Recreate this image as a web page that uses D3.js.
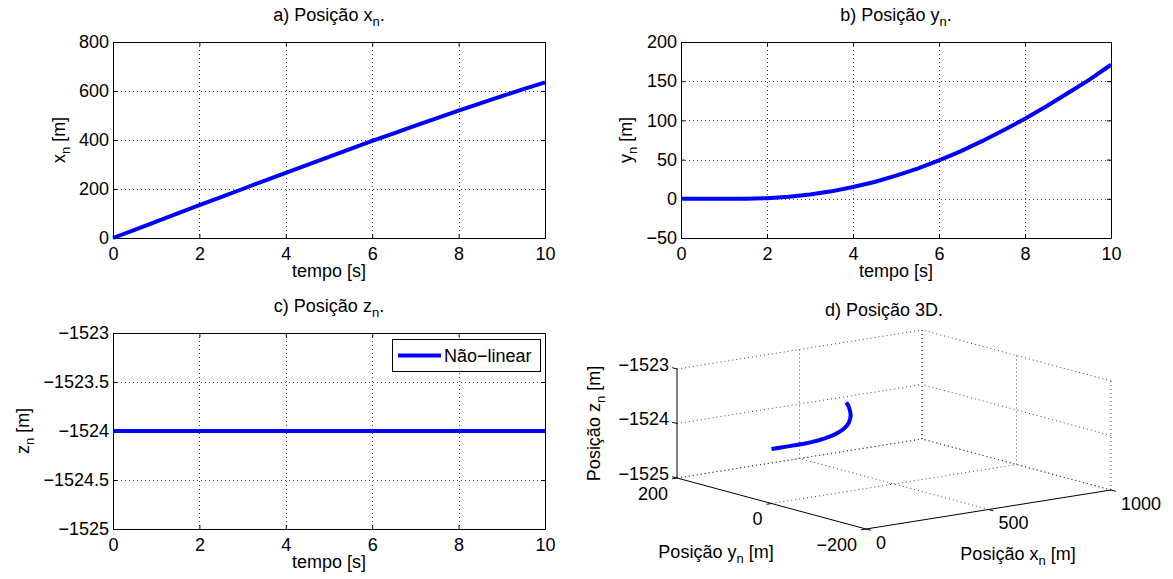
<!DOCTYPE html>
<html>
<head>
<meta charset="utf-8">
<script src="https://cdn.jsdelivr.net/npm/d3@7"></script>
<style>
  html, body { margin: 0; padding: 0; background: #fff; }
  svg { display: block; font-family: "Liberation Sans", Arial, Helvetica, sans-serif; }
</style>
</head>
<body>
<svg id="fig" width="1173" height="579"></svg>
<script>
// Simulated trajectory, sampled every 0.5 s
const time = [0, 0.5, 1, 1.5, 2, 2.5, 3, 3.5, 4, 4.5, 5, 5.5, 6, 6.5, 7, 7.5, 8, 8.5, 9, 9.5, 10];
const posX = [0, 33.5, 67, 100.5, 134, 167, 200, 233, 266, 298.5, 331, 363.5, 396, 427.5, 459, 489.5, 520, 549.5, 579, 607.5, 635];
const posY = [0, 0, 0, 0.1, 0.8, 2.5, 5.5, 9.5, 15, 21.5, 29.5, 38.5, 49, 60.5, 73.5, 87.5, 102, 118, 135, 152, 171];
const posZ = [-1524, -1524, -1524, -1524, -1524, -1524, -1524, -1524, -1524, -1524, -1524,
              -1524, -1524, -1524, -1524, -1524, -1524, -1524, -1524, -1524, -1524];

// Tick values
const timeTicks = [0, 2, 4, 6, 8, 10];
const xTicks = [0, 200, 400, 600, 800];
const yTicks = [-50, 0, 50, 100, 150, 200];
const zTicks = [-1525, -1524.5, -1524, -1523.5, -1523];
const x3Ticks = [0, 500, 1000];
const y3Ticks = [-200, 0, 200];
const z3Ticks = [-1525, -1524, -1523];

const seriesName = "Não−linear";

const FONT = 18;
const SUB = 13;
const BLUE = "#0000ff";
const svg = d3.select("#fig");
const fmt = d3.format("");

// Text with TeX-like subscripts: parts = [[text, isSub], ...]
function richText(sel, parts) {
  let down = false;
  parts.forEach(([t, sub]) => {
    const ts = sel.append("tspan").text(t);
    if (sub && !down) { ts.attr("dy", 5).attr("font-size", SUB); down = true; }
    else if (sub) { ts.attr("font-size", SUB); }
    else if (down) { ts.attr("dy", -5); down = false; }
  });
  return sel;
}

function styleAxis(g) {
  g.attr("font-size", FONT).attr("font-family", null);
  g.selectAll("text").attr("fill", "#000");
  g.selectAll("line").attr("stroke", "#000");
  g.select(".domain").attr("stroke", "#000");
}

function drawPanel(box, yDomain, yTickVals, values, titleParts, ylabelParts, withLegend) {
  const g = svg.append("g");
  const x = d3.scaleLinear([0, 10], [box.left, box.right]);
  const y = d3.scaleLinear(yDomain, [box.bottom, box.top]);

  // dotted grid
  const grid = g.append("g")
    .attr("stroke", "#444").attr("stroke-width", 1)
    .attr("stroke-dasharray", "1,3").attr("shape-rendering", "crispEdges");
  grid.selectAll("line.v").data(timeTicks.filter(v => v > 0 && v < 10)).join("line")
    .attr("class", "v")
    .attr("x1", d => Math.round(x(d)) + 0.5).attr("x2", d => Math.round(x(d)) + 0.5)
    .attr("y1", box.top).attr("y2", box.bottom);
  grid.selectAll("line.h").data(yTickVals.filter(v => v > yDomain[0] && v < yDomain[1])).join("line")
    .attr("class", "h")
    .attr("y1", d => Math.round(y(d)) + 0.5).attr("y2", d => Math.round(y(d)) + 0.5)
    .attr("x1", box.left).attr("x2", box.right);

  // axes with inward ticks on all four sides
  g.append("g").attr("transform", `translate(0,${box.bottom})`)
    .call(d3.axisBottom(x).tickValues(timeTicks).tickFormat(fmt).tickSizeInner(-4).tickSizeOuter(0).tickPadding(9))
    .call(styleAxis);
  g.append("g").attr("transform", `translate(0,${box.top})`)
    .call(d3.axisTop(x).tickValues(timeTicks).tickFormat("").tickSizeInner(-4).tickSizeOuter(0))
    .call(styleAxis);
  const left = g.append("g").attr("transform", `translate(${box.left},0)`)
    .call(d3.axisLeft(y).tickValues(yTickVals).tickFormat(fmt).tickSizeInner(-4).tickSizeOuter(0).tickPadding(4))
    .call(styleAxis);
  g.append("g").attr("transform", `translate(${box.right},0)`)
    .call(d3.axisRight(y).tickValues(yTickVals).tickFormat("").tickSizeInner(-4).tickSizeOuter(0))
    .call(styleAxis);

  // series
  g.append("path")
    .datum(time.map((t, i) => [t, values[i]]))
    .attr("fill", "none").attr("stroke", BLUE).attr("stroke-width", 4)
    .attr("d", d3.line().x(d => x(d[0])).y(d => y(d[1])));

  // title
  richText(g.append("text").attr("x", (box.left + box.right) / 2).attr("y", box.top - 21)
    .attr("text-anchor", "middle").attr("font-size", FONT), titleParts);

  // x label
  g.append("text").attr("x", (box.left + box.right) / 2).attr("y", box.bottom + 39)
    .attr("text-anchor", "middle").attr("font-size", FONT).text("tempo [s]");

  // y label, placed left of the widest tick label
  let minLeft = box.left;
  left.selectAll("text").each(function () {
    const bb = this.getBBox();
    minLeft = Math.min(minLeft, box.left + bb.x);
  });
  const yl = g.append("text")
    .attr("transform", `translate(${minLeft - 14},${(box.top + box.bottom) / 2}) rotate(-90)`)
    .attr("text-anchor", "middle").attr("font-size", FONT);
  richText(yl, ylabelParts);

  if (withLegend) {
    const lg = g.append("g");
    lg.append("rect").attr("x", 392.5).attr("y", 339.5).attr("width", 148).attr("height", 32)
      .attr("fill", "#fff").attr("stroke", "#000").attr("stroke-width", 1);
    lg.append("line").attr("x1", 398).attr("x2", 441).attr("y1", 355.5).attr("y2", 355.5)
      .attr("stroke", BLUE).attr("stroke-width", 4);
    lg.append("text").attr("x", 444).attr("y", 362).attr("font-size", FONT).text(seriesName);
  }
}

drawPanel({ left: 113, right: 545, top: 42, bottom: 238 }, [0, 800], xTicks, posX,
  [["a) Posição x", false], ["n", true], [".", false]], [["x", false], ["n", true], [" [m]", false]], false);
drawPanel({ left: 681, right: 1111, top: 42, bottom: 238 }, [-50, 200], yTicks, posY,
  [["b) Posição y", false], ["n", true], [".", false]], [["y", false], ["n", true], [" [m]", false]], false);
drawPanel({ left: 113, right: 545, top: 333, bottom: 529 }, [-1525, -1523], zTicks, posZ,
  [["c) Posição z", false], ["n", true], [".", false]], [["z", false], ["n", true], [" [m]", false]], true);

// ---- 3D view (orthographic projection) ----
const view = { ox: 866, oy: 529, ex: [245, -39], ey: [-189, -51], ez: [0, -109] };
const fx = d3.scaleLinear([0, 1000], [0, 1]);
const fy = d3.scaleLinear([-200, 200], [0, 1]);
const fz = d3.scaleLinear([-1525, -1523], [0, 1]);
function P(xv, yv, zv) {
  const a = fx(xv), b = fy(yv), c = fz(zv);
  return [view.ox + a * view.ex[0] + b * view.ey[0] + c * view.ez[0],
          view.oy + a * view.ex[1] + b * view.ey[1] + c * view.ez[1]];
}
const [x0, x1] = [0, 1000], [y0, y1] = [-200, 200], [z0, z1] = [-1525, -1523];
const g3 = svg.append("g");

const gridSegs = [];
x3Ticks.filter(v => v !== x0).forEach(v => {
  gridSegs.push([[v, y1, z0], [v, y1, z1]]);   // back wall y = max
  gridSegs.push([[v, y0, z0], [v, y1, z0]]);   // floor
});
y3Ticks.forEach(v => {
  gridSegs.push([[x1, v, z0], [x1, v, z1]]);   // back wall x = max
  if (v !== y0) gridSegs.push([[x0, v, z0], [x1, v, z0]]); // floor
});
z3Ticks.forEach(v => {
  gridSegs.push([[x0, y1, v], [x1, y1, v]]);
  gridSegs.push([[x1, y0, v], [x1, y1, v]]);
});
g3.append("g").attr("stroke", "#444").attr("stroke-width", 1).attr("stroke-dasharray", "1,3")
  .selectAll("line").data(gridSegs).join("line")
  .attr("x1", d => P(...d[0])[0]).attr("y1", d => P(...d[0])[1])
  .attr("x2", d => P(...d[1])[0]).attr("y2", d => P(...d[1])[1]);

// solid axes
const axisSegs = [
  [[x0, y1, z0], [x0, y1, z1]],
  [[x0, y0, z0], [x0, y1, z0]],
  [[x0, y0, z0], [x1, y0, z0]]
];
g3.append("g").attr("stroke", "#000").attr("stroke-width", 1)
  .selectAll("line").data(axisSegs).join("line")
  .attr("x1", d => P(...d[0])[0]).attr("y1", d => P(...d[0])[1])
  .attr("x2", d => P(...d[1])[0]).attr("y2", d => P(...d[1])[1]);

// tick marks (outward, 5 px)
function unit(v) { const l = Math.hypot(v[0], v[1]); return [v[0] / l, v[1] / l]; }
const uy = unit(view.ey), ux = unit(view.ex);
const tickSegs = [];
z3Ticks.forEach(v => { const p = P(x0, y1, v); tickSegs.push([p, [p[0] + 5 * uy[0], p[1] + 5 * uy[1]]]); });
y3Ticks.forEach(v => { const p = P(x0, v, z0); tickSegs.push([p, [p[0] - 5 * ux[0], p[1] - 5 * ux[1]]]); });
x3Ticks.forEach(v => { const p = P(v, y0, z0); tickSegs.push([p, [p[0] - 5 * uy[0], p[1] - 5 * uy[1]]]); });
g3.append("g").attr("stroke", "#000").attr("stroke-width", 1)
  .selectAll("line").data(tickSegs).join("line")
  .attr("x1", d => d[0][0]).attr("y1", d => d[0][1]).attr("x2", d => d[1][0]).attr("y2", d => d[1][1]);

// tick labels
const t3 = g3.append("g").attr("font-size", FONT).attr("fill", "#000");
t3.selectAll("text.z").data(z3Ticks).join("text").attr("class", "z")
  .attr("text-anchor", "end")
  .attr("x", d => P(x0, y1, d)[0] - 8).attr("y", d => P(x0, y1, d)[1] + 1.5).text(fmt);
t3.selectAll("text.y").data(y3Ticks).join("text").attr("class", "y")
  .attr("text-anchor", "end")
  .attr("x", d => P(x0, d, z0)[0] - 9).attr("y", d => P(x0, d, z0)[1] + 21.5).text(fmt);
t3.selectAll("text.x").data(x3Ticks).join("text").attr("class", "x")
  .attr("text-anchor", "start")
  .attr("x", d => P(d, y0, z0)[0] + 10).attr("y", d => P(d, y0, z0)[1] + 19.5).text(fmt);

// trajectory
g3.append("path")
  .datum(time.map((t, i) => P(posX[i], posY[i], posZ[i])))
  .attr("fill", "none").attr("stroke", BLUE).attr("stroke-width", 4)
  .attr("d", d3.line());

// labels
richText(g3.append("text").attr("x", 884).attr("y", 316).attr("text-anchor", "middle").attr("font-size", FONT),
  [["d) Posição 3D.", false]]);
richText(g3.append("text").attr("x", 716).attr("y", 558).attr("text-anchor", "middle").attr("font-size", FONT),
  [["Posição y", false], ["n", true], [" [m]", false]]);
richText(g3.append("text").attr("x", 1018).attr("y", 560).attr("text-anchor", "middle").attr("font-size", FONT),
  [["Posição x", false], ["n", true], [" [m]", false]]);
richText(g3.append("text").attr("transform", `translate(600,${(P(x0, y1, z0)[1] + P(x0, y1, z1)[1]) / 2}) rotate(-90)`)
  .attr("text-anchor", "middle").attr("font-size", FONT),
  [["Posição z", false], ["n", true], [" [m]", false]]);
</script>
</body>
</html>
